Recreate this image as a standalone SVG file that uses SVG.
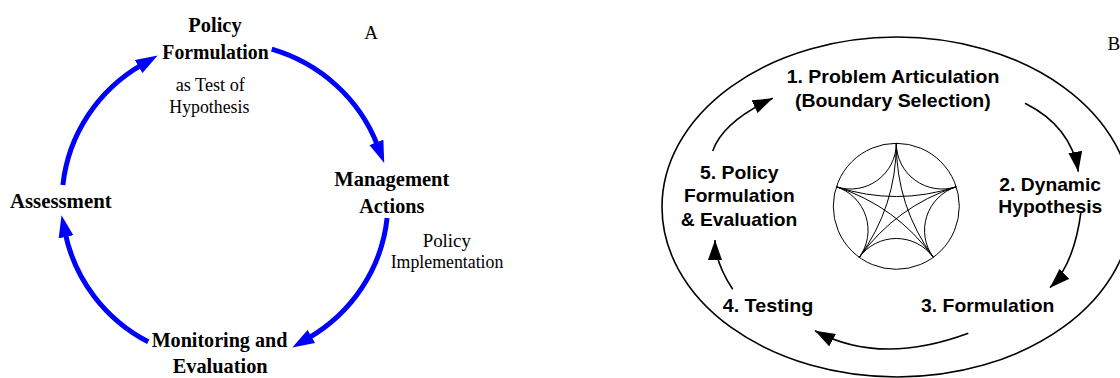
<svg xmlns="http://www.w3.org/2000/svg" width="1120" height="378" viewBox="0 0 1120 378">
  <style>
    .serif-b { font-family: "Liberation Serif", "Times New Roman", serif; font-weight: bold; font-size: 22px; fill: #000; text-anchor: middle; }
    .serif { font-family: "Liberation Serif", "Times New Roman", serif; font-size: 19px; fill: #000; text-anchor: middle; }
    .sans-b { font-family: "Liberation Sans", Arial, sans-serif; font-weight: bold; font-size: 19px; fill: #000; text-anchor: middle; }
    .blue-link { fill: none; stroke: #0000ff; stroke-width: 5; marker-end: url(#blueHead); }
    .black-link { fill: none; stroke: #000; stroke-width: 1.6; marker-end: url(#blackHead); }
    .star { fill: none; stroke: #000; stroke-width: 1; }
  </style>
  <defs>
    <marker id="blueHead" markerUnits="userSpaceOnUse" viewBox="-4 -8 22 16" markerWidth="22" markerHeight="16" refX="0" refY="0" orient="auto">
      <path d="M-4,-7.5 L18,0 L-4,7.5 z" fill="#0000ff"/>
    </marker>
    <marker id="blackHead" markerUnits="userSpaceOnUse" viewBox="-20 -7 20 14" markerWidth="20" markerHeight="14" refX="0" refY="0" orient="auto">
      <path d="M-20,-7 L0,0 L-20,7 z" fill="#000"/>
    </marker>
  </defs>

  <rect width="1120" height="378" fill="#fff"/>

  <!-- Panel A: policy cycle -->
  <g id="panel-a-links">
    <path class="blue-link" d="M271.7,49.2 A163,159 0 0 1 377.8,146.1"/>
    <path class="blue-link" d="M387.1,218.1 A163,159 0 0 1 307.9,338.4"/>
    <path class="blue-link" d="M148.2,341.8 A163,159 0 0 1 65.2,232.9"/>
    <path class="blue-link" d="M62.9,184.9 A163,159 0 0 1 142.1,64.6"/>
  </g>

  <g id="node-policy-formulation">
    <text class="serif-b" x="215" y="31.7" textLength="53.3" lengthAdjust="spacingAndGlyphs">Policy</text>
    <text class="serif-b" x="215.5" y="59" textLength="106.3" lengthAdjust="spacingAndGlyphs">Formulation</text>
    <text class="serif" x="210.3" y="90.7" textLength="69.3" lengthAdjust="spacingAndGlyphs">as Test of</text>
    <text class="serif" x="209.3" y="113.3" textLength="80" lengthAdjust="spacingAndGlyphs">Hypothesis</text>
  </g>
  <g id="node-management-actions">
    <text class="serif-b" x="391.8" y="185.7" textLength="115" lengthAdjust="spacingAndGlyphs">Management</text>
    <text class="serif-b" x="391.8" y="213.3" textLength="65" lengthAdjust="spacingAndGlyphs">Actions</text>
    <text class="serif" x="446.8" y="246.7" textLength="48.3" lengthAdjust="spacingAndGlyphs">Policy</text>
    <text class="serif" x="447" y="268.3" textLength="112.7" lengthAdjust="spacingAndGlyphs">Implementation</text>
  </g>
  <g id="node-monitoring">
    <text class="serif-b" x="219.5" y="346.7" textLength="135.7" lengthAdjust="spacingAndGlyphs">Monitoring and</text>
    <text class="serif-b" x="220.2" y="373.3" textLength="95" lengthAdjust="spacingAndGlyphs">Evaluation</text>
  </g>
  <g id="node-assessment">
    <text class="serif-b" x="60.8" y="208.3" textLength="101.7" lengthAdjust="spacingAndGlyphs">Assessment</text>
  </g>
  <text class="serif" x="371" y="39.3">A</text>

  <!-- Panel B: modelling process -->
  <ellipse cx="897" cy="207" rx="235" ry="170" fill="none" stroke="#000" stroke-width="1.6"/>

  <g id="hyperbolic-star" class="star">
    <circle cx="896.3" cy="206.3" r="63"/>
    <!-- edges between neighbouring points -->
    <path d="M896.3,143.3 A45.8,45.8 0 0 0 956.2,186.8"/>
    <path d="M956.2,186.8 A45.8,45.8 0 0 0 933.3,257.3"/>
    <path d="M933.3,257.3 A45.8,45.8 0 0 0 859.3,257.3"/>
    <path d="M859.3,257.3 A45.8,45.8 0 0 0 836.4,186.8"/>
    <path d="M836.4,186.8 A45.8,45.8 0 0 0 896.3,143.3"/>
    <!-- pentagram edges -->
    <path d="M896.3,143.3 A193.9,193.9 0 0 0 933.3,257.3"/>
    <path d="M933.3,257.3 A193.9,193.9 0 0 0 836.4,186.8"/>
    <path d="M836.4,186.8 A193.9,193.9 0 0 0 956.2,186.8"/>
    <path d="M956.2,186.8 A193.9,193.9 0 0 0 859.3,257.3"/>
    <path d="M859.3,257.3 A193.9,193.9 0 0 0 896.3,143.3"/>
  </g>

  <g id="panel-b-links">
    <path class="black-link" d="M712.7,151 Q722.9,121.5 772.7,98.3"/>
    <path class="black-link" d="M1025,103.3 Q1071.3,126.5 1078.3,171.7"/>
    <path class="black-link" d="M1081,211.7 Q1074.1,264.5 1050,287.7"/>
    <path class="black-link" d="M968.3,333.3 Q880,366 815,330.7"/>
    <path class="black-link" d="M732.7,289.3 Q715,262.4 715,240"/>
  </g>

  <g id="node-problem-articulation">
    <text class="sans-b" x="893" y="83.3" textLength="212.6" lengthAdjust="spacingAndGlyphs">1. Problem Articulation</text>
    <text class="sans-b" x="892.8" y="107.3" textLength="195.7" lengthAdjust="spacingAndGlyphs">(Boundary Selection)</text>
  </g>
  <g id="node-dynamic-hypothesis">
    <text class="sans-b" x="1050.2" y="190.7" textLength="101.7" lengthAdjust="spacingAndGlyphs">2. Dynamic</text>
    <text class="sans-b" x="1050.3" y="213.3" textLength="104" lengthAdjust="spacingAndGlyphs">Hypothesis</text>
  </g>
  <g id="node-formulation">
    <text class="sans-b" x="987.7" y="311.7" textLength="133.3" lengthAdjust="spacingAndGlyphs">3. Formulation</text>
  </g>
  <g id="node-testing">
    <text class="sans-b" x="768" y="311.7" textLength="90.6" lengthAdjust="spacingAndGlyphs">4. Testing</text>
  </g>
  <g id="node-policy-evaluation">
    <text class="sans-b" x="739.3" y="179" textLength="78.7" lengthAdjust="spacingAndGlyphs">5. Policy</text>
    <text class="sans-b" x="739.3" y="202.3" textLength="110.7" lengthAdjust="spacingAndGlyphs">Formulation</text>
    <text class="sans-b" x="739" y="225.7" textLength="116.6" lengthAdjust="spacingAndGlyphs">&amp; Evaluation</text>
  </g>
  <text class="serif" x="1107.5" y="49.5" text-anchor="start" style="text-anchor:start">B</text>
</svg>
